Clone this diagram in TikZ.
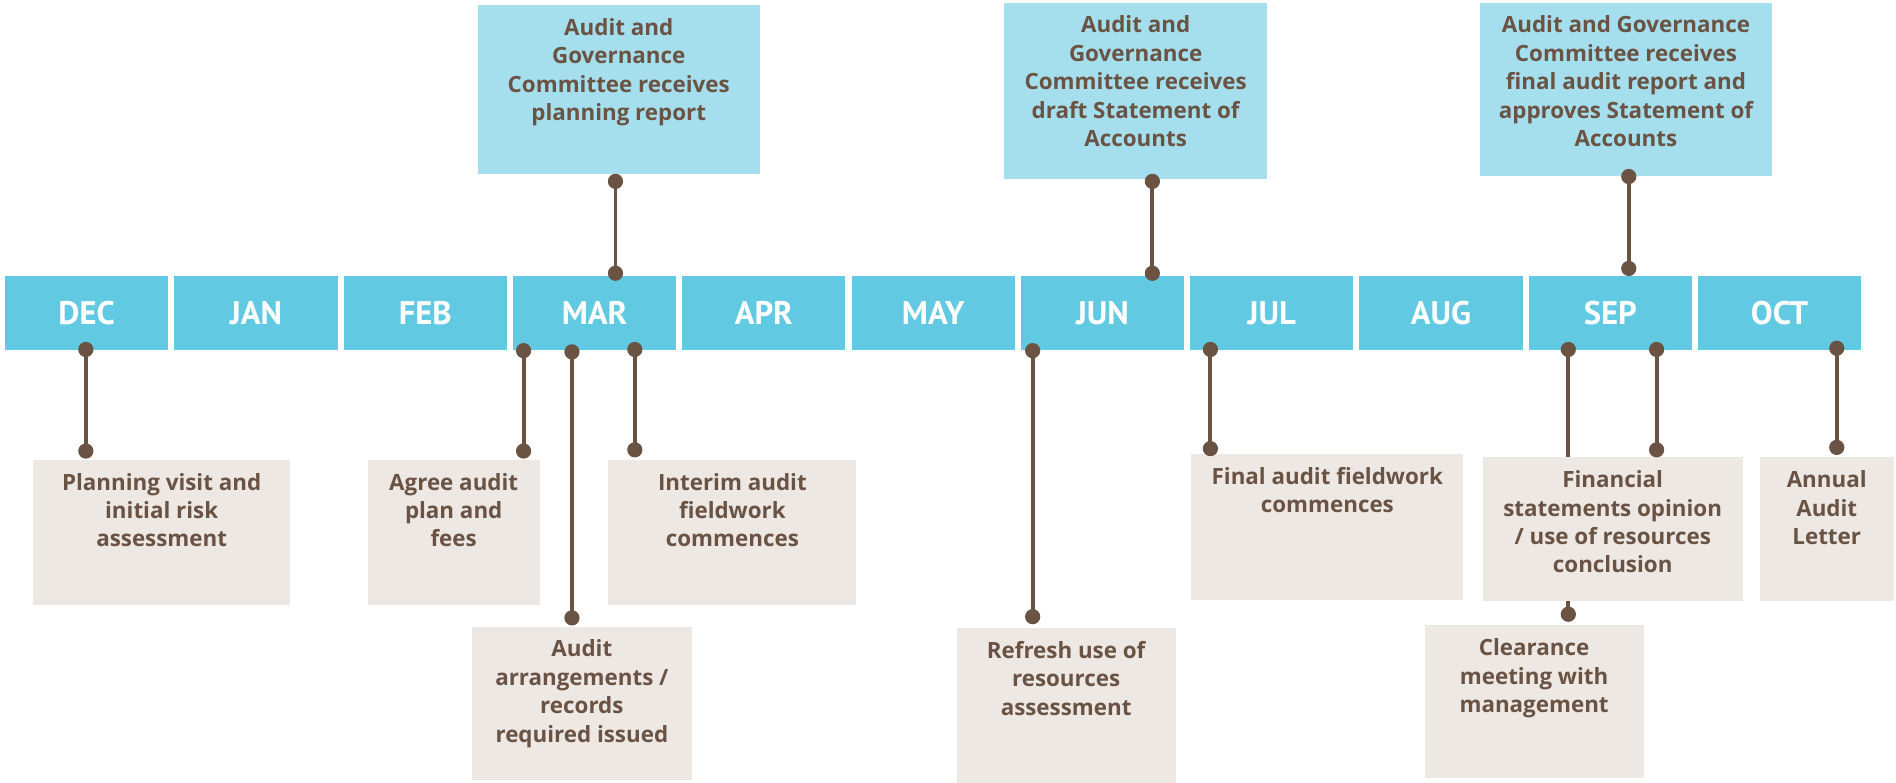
\documentclass[tikz,border=0pt]{standalone}
\usepackage{fontspec}
\setmainfont{Open Sans}
\newfontfamily\monthfont{PT Sans}
\usetikzlibrary{calc}
\definecolor{barblue}{HTML}{62C9E2}
\definecolor{topblue}{HTML}{A5DFED}
\definecolor{beige}{HTML}{EDE8E4}
\definecolor{brown}{HTML}{6B5344}
\tikzset{
  month/.style={fill=barblue, draw=none, inner sep=0pt, anchor=north west,
    minimum width=135pt, minimum height=61pt, text=white,
    font=\monthfont\bfseries\fontsize{27}{30}\selectfont},
  topbox/.style={fill=topblue, draw=none, inner sep=0pt, anchor=north west},
  evbox/.style={fill=beige, draw=none, inner sep=0pt, anchor=north west},
  evtext/.style={anchor=north, inner sep=0pt, align=center, text=brown,
    font=\bfseries\fontsize{18.5}{23.5}\selectfont},
  conn/.style={draw=brown, line width=3.2pt},
  dotc/.style={fill=brown},
}
% connector with a round dot at each end
\newcommand{\pinline}[2]{%
  \draw[conn] (#1) -- (#2);
  \fill[dotc] (#1) circle[radius=6.3pt] (#2) circle[radius=6.3pt];}
% box with its text set from the top edge
\newcommand{\evnode}[7]{% style, name, x, y, width, height, text
  \node[#1, minimum width=#5pt, minimum height=#6pt] (#2) at (#3,#4) {};
  \node[evtext] (#2-t) at ($(#2.north)+(0,11)$) {#7};}
\begin{document}
\begin{tikzpicture}[x=1pt, y=-1pt]
\useasboundingbox (0,0) rectangle (1568,647);

% month bar
\foreach \m [count=\i from 0] in {DEC,JAN,FEB,MAR,APR,MAY,JUN,JUL,AUG,SEP,OCT}
  \node[month] (m\i) at ({4+140*\i},228) {\m};

% committee boxes above the bar
\evnode{topbox}{t1}{395}{4}{233}{140}{Audit and\\Governance\\Committee receives\\planning report}
\evnode{topbox}{t2}{830}{2}{218}{146}{Audit and\\Governance\\Committee receives\\draft Statement of\\Accounts}
\evnode{topbox}{t3}{1224}{2}{241}{143}{Audit and Governance\\Committee receives\\final audit report and\\approves Statement of\\Accounts}

\coordinate (t1a) at (509,150); \coordinate (t1b) at (509,226);
\coordinate (t2a) at (953,150); \coordinate (t2b) at (953,226);
\coordinate (t3a) at (1347,146); \coordinate (t3b) at (1347,222);
\pinline{t1a}{t1b}
\pinline{t2a}{t2b}
\pinline{t3a}{t3b}

% the clearance line runs behind the opinion box
\coordinate (ha) at (1297,289); \coordinate (hb) at (1297,508);
\pinline{ha}{hb}

% activity boxes below the bar
\evnode{evbox}{a}{27}{380}{213}{120}{Planning visit and\\initial risk\\assessment}
\evnode{evbox}{b}{304}{380}{142}{120}{Agree audit\\plan and\\fees}
\evnode{evbox}{c}{503}{380}{205}{120}{Interim audit\\fieldwork\\commences}
\evnode{evbox}{d}{390}{518}{182}{127}{Audit\\arrangements /\\records\\required issued}
\evnode{evbox}{e}{791}{519}{181}{128}{Refresh use of\\resources\\assessment}
\evnode{evbox}{f}{985}{375}{225}{121}{Final audit fieldwork\\commences}
\evnode{evbox}{g}{1226}{378}{215}{119}{Financial\\statements opinion\\/ use of resources\\conclusion}
\evnode{evbox}{h}{1178}{517}{181}{126}{Clearance\\meeting with\\management}
\evnode{evbox}{i}{1455}{378}{111}{119}{Annual\\Audit\\Letter}

\coordinate (aa) at (71,289);  \coordinate (ab) at (71,373);
\coordinate (ba) at (433,290); \coordinate (bb) at (433,373);
\coordinate (ca) at (525,289); \coordinate (cb) at (525,372);
\coordinate (da) at (473,291); \coordinate (db) at (473,511);
\coordinate (ea) at (854,290); \coordinate (eb) at (854,510);
\coordinate (fa) at (1001,289); \coordinate (fb) at (1001,371);
\coordinate (ga) at (1370,289); \coordinate (gb) at (1370,372);
\coordinate (ia) at (1519,288); \coordinate (ib) at (1519,370);
\pinline{aa}{ab}
\pinline{ba}{bb}
\pinline{ca}{cb}
\pinline{da}{db}
\pinline{ea}{eb}
\pinline{fa}{fb}
\pinline{ga}{gb}
\pinline{ia}{ib}
\end{tikzpicture}
\end{document}
